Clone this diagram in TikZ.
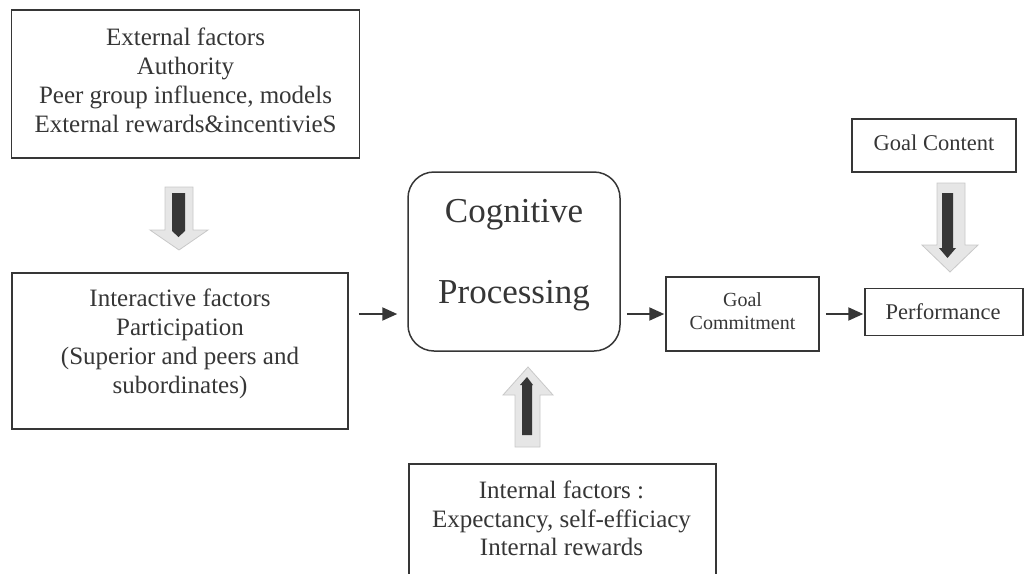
\documentclass[tikz,border=0pt]{standalone}
\usepackage{fontspec}
\setmainfont{Liberation Serif}
\usetikzlibrary{arrows.meta}
\definecolor{ink}{HTML}{363636}
\definecolor{lightarr}{HTML}{E6E6E6}
\definecolor{lightedge}{HTML}{C8C8C8}
\tikzset{
  box/.style={draw=ink, line width=1.5pt, inner sep=0pt},
  txt/.style={text=ink, align=center, inner sep=0pt, font=\fontsize{25}{29}\selectfont},
  arr/.style={draw=ink, line width=2pt, -{Triangle[length=15pt,width=13pt]}},
  lightshape/.style={fill=lightarr, draw=lightedge, line width=0.8pt},
  darkshape/.style={fill=ink, draw=none}
}
\begin{document}
\begin{tikzpicture}[x=1pt,y=-1pt]
\useasboundingbox (0,0) rectangle (1024,573);
% boxes
\node[box, minimum width=348pt, minimum height=148pt] (ext) at (185.5,84) {};
\node[txt] (exttxt) at (185.5,80) {External factors\\Authority\\Peer group influence, models\\External rewards\&incentivieS};
\node[box, minimum width=336pt, minimum height=156pt] (inter) at (180,351) {};
\node[txt] (intertxt) at (180,343.5) {Interactive factors\\Participation\\(Superior and peers and\\subordinates)};
\node[box, rounded corners=26pt, minimum width=212pt, minimum height=179pt] (cog) at (514,261.5) {};
\node[txt, font=\fontsize{35}{81}\selectfont] (cogtxt) at (514,255.5) {Cognitive\\Processing};
\node[box, minimum width=153pt, minimum height=74pt] (goalc) at (742.5,314) {};
\node[txt, font=\fontsize{20}{23}\selectfont] (goalctxt) at (742.5,311.5) {Goal\\Commitment};
\node[box, minimum width=158pt, minimum height=47pt] (perf) at (944,312) {};
\node[txt, font=\fontsize{22.5}{26}\selectfont] (perftxt) at (943,312) {Performance};
\node[box, minimum width=164pt, minimum height=53pt] (gcont) at (934,145.5) {};
\node[txt, font=\fontsize{22.5}{26}\selectfont] (gconttxt) at (934,143) {Goal Content};
\node[box, minimum width=307pt, minimum height=140pt, anchor=north west] (intl) at (408,463) {};
\node[txt, font=\fontsize{25}{28.5}\selectfont] (intltxt) at (561.5,518.5) {Internal factors :\\Expectancy, self-efficiacy\\Internal rewards};
% connectors
\draw[arr, shorten <=10pt, shorten >=10pt] (inter.east |- goalc) -- (cog.west |- goalc);
\draw[arr, shorten <=6pt, shorten >=1pt] (cog.east |- goalc) -- (goalc.west);
\draw[arr, shorten <=6pt, shorten >=1pt] (goalc.east) -- (perf.west |- goalc);
% block arrow: external -> interactive
\path[lightshape] (165,187) -- (193,187) -- (193,230) -- (208,230) -- (179,250) -- (150,230) -- (165,230) -- cycle;
\path[darkshape] (172,193) -- (185,193) -- (185,231) -- (178.5,237) -- (172,231) -- cycle;
% block arrow: goal content -> performance
\path[lightshape] (937,183) -- (965,183) -- (965,245) -- (978,245) -- (950,272) -- (922,245) -- (937,245) -- cycle;
\path[darkshape] (942,193) -- (953,193) -- (953,248) -- (956,248) -- (947.5,258) -- (939,248) -- (942,248) -- cycle;
% block arrow: internal -> cognitive
\path[lightshape] (515,447) -- (540,447) -- (540,395) -- (553,395) -- (528,367) -- (503,395) -- (515,395) -- cycle;
\path[darkshape] (522,435) -- (532,435) -- (532,385) -- (533,385) -- (527,377) -- (520,385) -- (522,385) -- cycle;
\end{tikzpicture}
\end{document}
